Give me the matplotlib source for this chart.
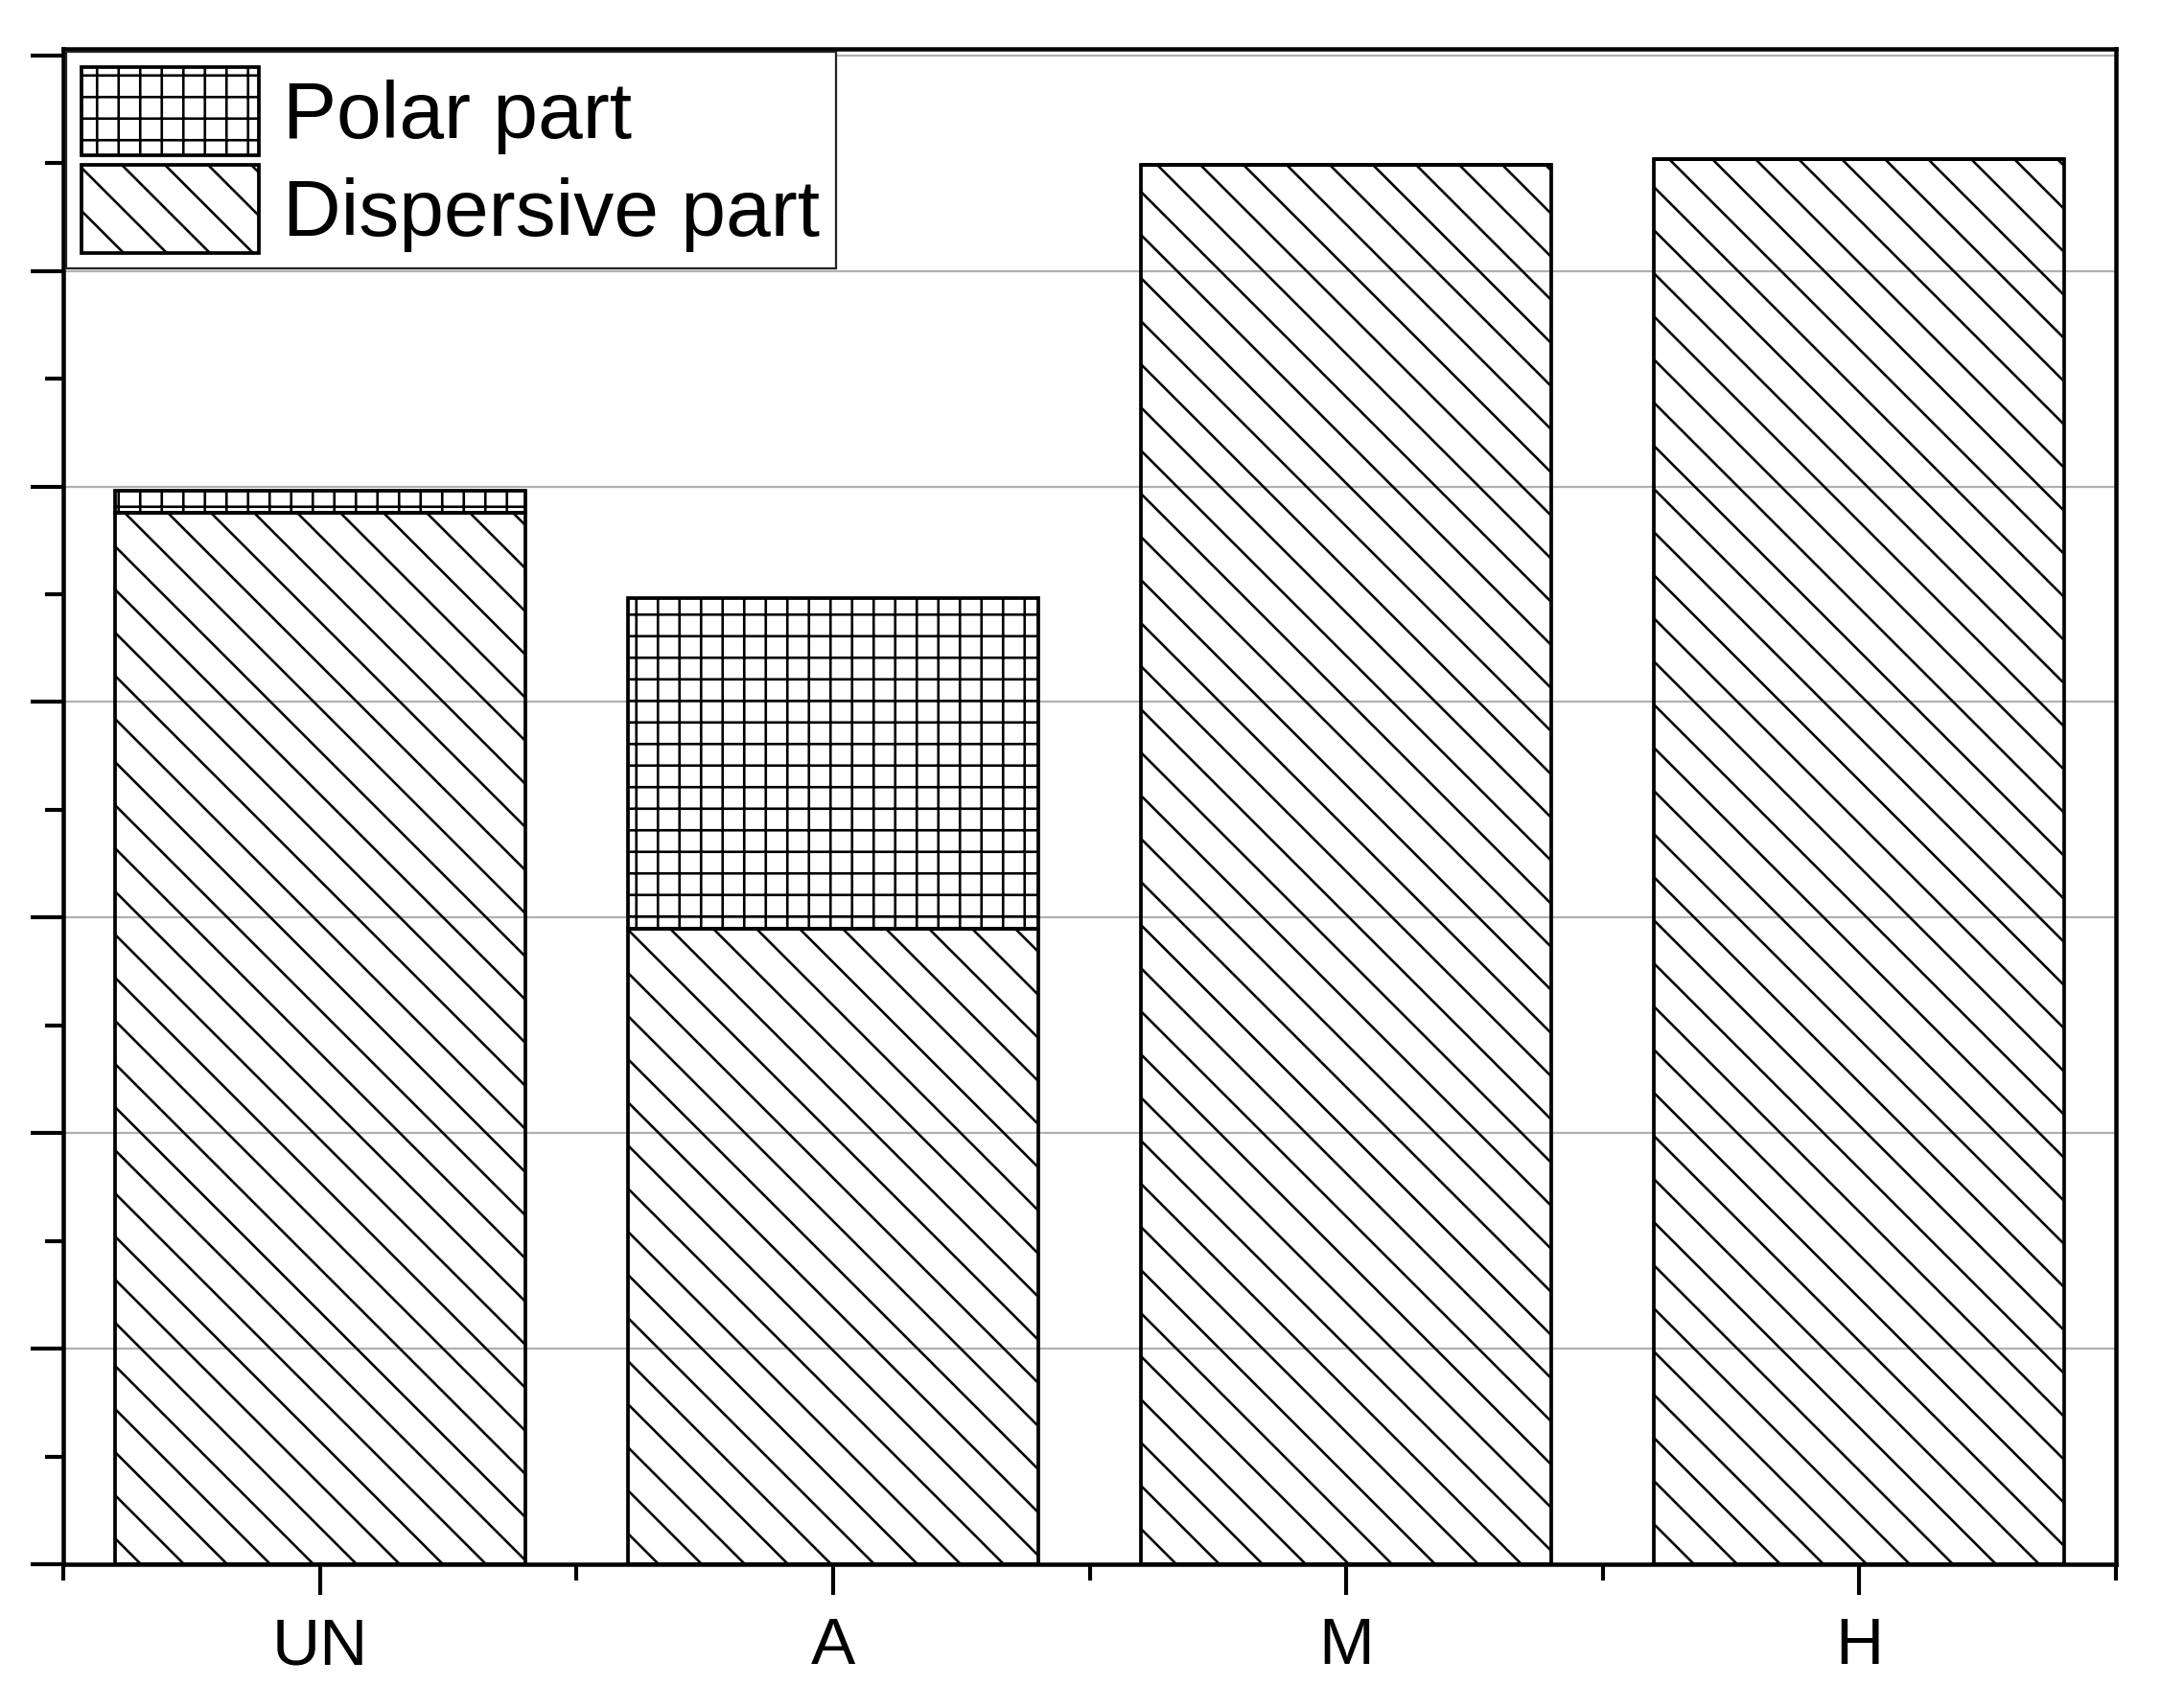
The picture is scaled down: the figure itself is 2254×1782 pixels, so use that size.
import numpy as np
import matplotlib
matplotlib.use("Agg")
import matplotlib.pyplot as plt
from matplotlib.ticker import MultipleLocator, FixedLocator

plt.rcParams['font.family'] = ['Liberation Sans', 'DejaVu Sans']
plt.rcParams['hatch.linewidth'] = 0.7

samples = ['UN', 'A', 'M', 'H']
dispersive = [4.88, 2.95, 6.49, 6.52]
polar = [0.10, 1.53, 0.0, 0.0]

W, H, DPI = 2254, 1782, 270
fig = plt.figure(figsize=(W / DPI, H / DPI), dpi=DPI)
ax = fig.add_axes([66 / W, 1 - 1632 / H, (2207 - 66) / W, (1632 - 51) / H])

x = np.arange(1, len(samples) + 1)
b1 = ax.bar(x, dispersive, width=0.8, facecolor='none', edgecolor='black',
            linewidth=1.0, hatch='\\\\', label='Dispersive part', zorder=2)
b2 = ax.bar(x, polar, bottom=dispersive, width=0.8, facecolor='none',
            edgecolor='black', linewidth=1.0, hatch='++', label='Polar part', zorder=2)

ax.set_xlim(0.5, 4.5)
ax.set_ylim(0, 7.03)
ax.set_xticks(x)
ax.set_xticklabels(samples, fontsize=18.5)
ax.xaxis.set_minor_locator(FixedLocator(np.arange(0.5, 4.6, 1.0)))
ax.yaxis.set_major_locator(MultipleLocator(1))
ax.yaxis.set_minor_locator(MultipleLocator(0.5))
ax.tick_params(axis='y', which='major', direction='out', length=9, width=1.1, labelleft=False)
ax.tick_params(axis='y', which='minor', direction='out', length=5, width=1.1)
ax.tick_params(axis='x', which='major', direction='out', length=8.5, width=1.1, pad=6)
ax.tick_params(axis='x', which='minor', direction='out', length=4.5, width=1.1)

for s in ax.spines.values():
    s.set_linewidth(1.2)

ax.set_axisbelow(True)
ax.yaxis.grid(True, which='major', color='#b0b0b0', linewidth=0.6)

leg = ax.legend([b2, b1], ['Polar part', 'Dispersive part'], loc='upper left',
                fontsize=22.4, frameon=True, fancybox=False, framealpha=1,
                edgecolor='#222222', borderaxespad=0.03, borderpad=0.2,
                handlelength=2.2, handleheight=1.3, handletextpad=0.3,
                labelspacing=0.12)
leg.get_frame().set_linewidth(0.6)

fig.savefig('out.png', dpi=DPI)
